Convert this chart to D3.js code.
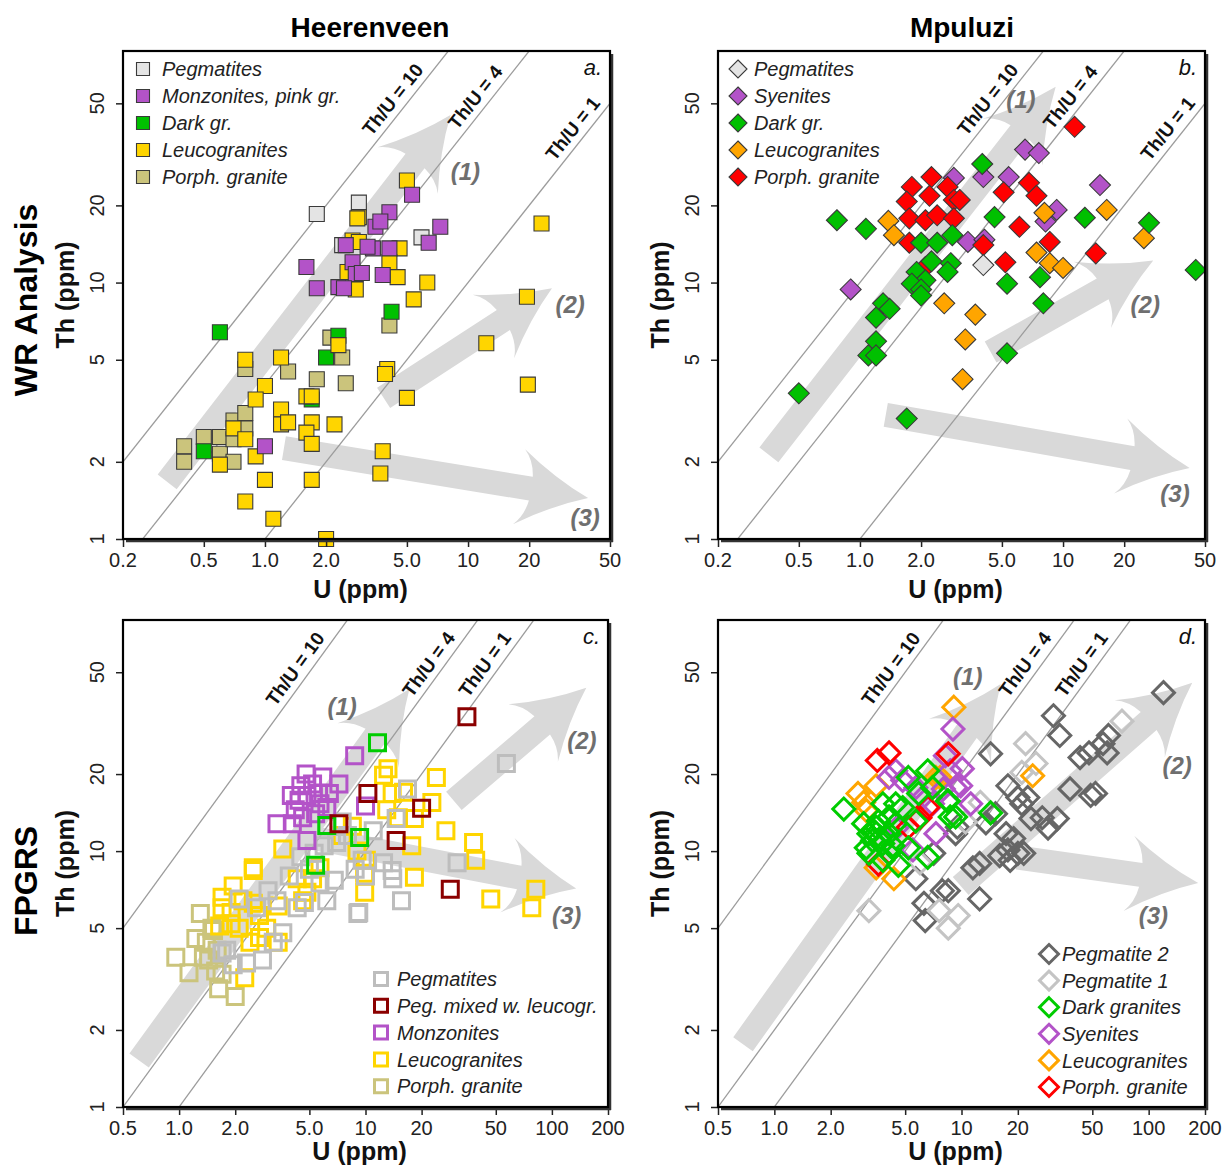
<!DOCTYPE html>
<html>
<head>
<meta charset="utf-8">
<title>Th vs U - Heerenveen and Mpuluzi</title>
<style>
body { margin: 0; background: #fff; }
text { font-family: "Liberation Sans", Arial, sans-serif; }
</style>
</head>
<body>
<script src="https://d3js.org/d3.v7.min.js"></script>
<div id="chart"></div>
<script>
// ---- tick labels ----
const yTicks = [1, 2, 5, 10, 20, 50];
const yTickLabels = ["1", "2", "5", "10", "20", "50"];
const abXTicks = [0.2, 0.5, 1, 2, 5, 10, 20, 50];
const abXTickLabels = ["0.2", "0.5", "1.0", "2.0", "5.0", "10", "20", "50"];
const cdXTicks = [0.5, 1, 2, 5, 10, 20, 50, 100, 200];
const cdXTickLabels = ["0.5", "1.0", "2.0", "5.0", "10", "20", "50", "100", "200"];

// ---- Th/U reference lines: ratio where the line is drawn, label text, Th where label sits ----
const abRatios = [10, 4, 1];
const cdRatios = [10, 2, 1];
const ratioLabels = ["Th/U = 10", "Th/U = 4", "Th/U = 1"];
const abRatioLabelTh = [48, 49, 37];
const cdRatioLabelTh = [48, 50, 50];

// ---- trend arrows [U start, Th start, U tip, Th tip] ----
const aArrows = [[0.33, 1.67, 8.2, 45], [3.84, 3.55, 25.9, 9.5], [1.24, 2.26, 39, 1.445]];
const bArrows = [[0.356, 2.13, 9.2, 58], [4.4, 5.36, 27.8, 12.2], [1.34, 3.05, 42, 1.89]];
const cArrows = [[0.61, 1.52, 17.2, 43], [29.8, 15.7, 153, 43.5], [4.45, 11.5, 135, 7.15]];
const dArrows = [[0.68, 1.76, 16.2, 45], [9.9, 7.3, 171, 45.5], [19.9, 9.44, 184, 7.5]];
const arrowNames = ["(1)", "(2)", "(3)"];
const aArrowLabels = [[9.7, 27], [31.8, 8.2], [37.7, 1.21]];
const bArrowLabels = [[6.2, 51.5], [25.4, 8.2], [35.6, 1.5]];
const cArrowLabels = [[7.5, 36.6], [145, 27], [120, 5.6]];
const dArrowLabels = [[10.8, 48], [142, 21.6], [106, 5.6]];

// ---- a. Heerenveen WR  [U, Th] ----
const aPegmatites = [[1.8,18.5],[2.9,20.5],[2.4,14],[5.9,15]];
const aMonzonites = [[1.6,11.5],[2.5,14],[2.7,12],[2.8,10.8],[1.8,9.5],[2.3,9.6],[2.45,9.5],[5.3,22],[4.1,18.8],[3.5,16.5],[3.7,17.3],[7.3,16.5],[6.4,14.3],[3.4,13.6],[4.1,13.6],[3.8,10.7],[3.0,10.9],[1.0,2.3],[3.2,13.8]];
const aDark = [[0.6,6.4],[2.3,6.2],[2.0,5.1],[1.7,3.5],[0.5,2.2],[4.2,7.7]];
const aLeuco = [[0.8,5.0],[1.2,5.1],[1.0,3.95],[0.9,3.5],[1.2,3.2],[1.2,2.8],[1.3,2.85],[1.6,3.6],[1.7,3.6],[1.7,2.85],[1.6,2.6],[1.7,2.35],[2.2,2.8],[0.7,2.7],[0.8,2.45],[0.6,1.95],[0.9,2.1],[1.0,1.7],[1.7,1.7],[0.8,1.4],[1.1,1.2],[2.0,1.0],[2.3,5.7],[5.0,25],[2.9,18],[4.6,13.6],[4.1,12],[4.5,10.5],[6.3,10],[5.4,8.6],[23,17],[19.5,8.8],[12.3,5.8],[19.7,4.0],[4.0,4.6],[3.9,4.4],[5.0,3.55],[3.8,2.2],[3.7,1.8],[2.85,17.8],[2.7,14.6],[2.9,14.4],[2.55,11],[2.8,9.4]];
const aPorph = [[0.4,2.3],[0.4,2.0],[0.5,2.5],[0.6,2.5],[0.6,2.15],[0.7,2.0],[0.7,2.9],[0.8,3.1],[0.8,2.7],[0.7,2.45],[0.8,4.6],[1.3,4.5],[1.8,4.2],[2.5,4.05],[2.4,5.1],[2.1,6.1],[4.1,6.8]];

// ---- b. Mpuluzi WR ----
const bPegmatites = [[4.05,11.7]];
const bSyenites = [[0.9,9.4],[6.5,33],[7.6,32],[4.05,25.8],[5.4,25.8],[15.2,24],[9.3,19.2],[8.2,17.3],[3.4,14.4],[4.1,14.7],[2.9,25.6]];
const bDark = [[0.77,17.5],[1.07,16.2],[2.0,14.3],[2.4,14.3],[2.85,15.3],[2.25,12.1],[2.8,11.9],[2.7,11],[1.9,11],[2.1,10.2],[1.8,9.9],[2.0,9.4],[1.3,8.3],[1.4,7.9],[1.2,7.3],[1.2,5.9],[1.1,5.2],[1.2,5.2],[0.5,3.7],[1.7,2.95],[2.0,8.9],[4.0,29],[4.6,18],[12.8,17.9],[26.5,17.1],[45,11.2],[5.3,9.9],[7.7,10.5],[8.0,8.3],[5.3,5.3]];
const bLeuco = [[1.38,17.4],[1.47,15.3],[2.6,8.3],[3.3,6.0],[3.2,4.2],[8.1,18.7],[16.4,19.2],[25,14.9],[7.4,13.1],[8.6,11.9],[10,11.4],[3.7,7.5]];
const bPorph = [[2.25,25.8],[1.8,23.6],[2.7,23.6],[2.9,21],[1.7,20.7],[2.2,21.8],[1.75,17.8],[2.1,17.5],[2.4,18.3],[2.9,17.8],[1.75,14.3],[2.1,11.5],[11.4,40.5],[3.1,21],[5.1,22.5],[6.8,24.5],[7.4,21.8],[6.1,16.5],[8.6,14.4],[4.05,14],[5.2,12],[14.5,13]];

// ---- c. Heerenveen FPGRS ----
const cPegmatites = [[57,22],[31,9],[15.6,6.4],[14.6,13.4],[16.8,17.5],[13.9,8.4],[14,7.8],[9.6,9.2],[9.2,5.75],[2.1,6.5],[1.8,4.1],[1.7,4.0],[1.95,3.6],[2.8,3.75],[2.3,3.65],[3.35,6.4],[3.6,4.8],[5.7,7.5],[6.2,6.4],[9.1,5.7],[4.7,6.3],[3.2,4.4],[6.8,7.7],[4.3,6.0],[4.5,9.5],[5.3,9.8],[6.0,10.5],[7.0,10.8],[8.0,11.5],[6.2,12.5],[7.5,13.0],[5.0,8.5],[3.9,8.0],[3.0,7.0],[2.6,6.0],[8.8,8.5],[10,8.0],[12.5,9],[11,12]];
const cPegMixed = [[35,33.5],[10.3,16.8],[20,14.7],[14.6,11],[28.5,7.1],[7.2,12.8]];
const cMonzonites = [[8.75,23.6],[5.9,19.5],[4.5,18],[5.2,18.3],[4.0,16.5],[4.85,16.5],[5.6,16.8],[6.4,16.8],[7.2,18.3],[3.35,12.8],[4.05,12.8],[4.6,13.5],[5.4,14],[4.85,11],[6.2,14.8],[10,15],[4.4,15.8],[4.8,20],[4.2,14.5],[5.7,15.3]];
const cLeuco = [[13.2,21],[12.5,19.8],[24,19.4],[13.9,16.8],[16,17],[22.7,15.5],[18.3,13.4],[27,12],[38,10.8],[39,9.2],[17.7,10.5],[18.3,7.9],[47,6.5],[82,7.1],[78,6.0],[9.9,8.2],[9.9,6.9],[10.1,9.2],[3.6,10.2],[2.5,8.6],[2.5,8.4],[1.95,7.3],[1.7,6.6],[1.7,6.0],[2.2,6.4],[2.5,6.25],[2.7,5.6],[2.95,5.0],[3.4,6.1],[3.4,4.4],[2.4,4.4],[2.7,4.6],[2.25,3.2],[1.9,5.75],[1.9,5.2],[2.1,5.0],[1.65,5.1],[4.85,6.9],[5.2,7.8],[4.6,6.4],[4.3,7.8],[5.7,8.6],[8.5,12.5],[7.5,11.5],[9,10],[15,13.5],[13,14.5]];
const cPorph = [[0.96,3.85],[1.13,3.35],[1.3,5.7],[1.23,4.55],[1.4,4.4],[1.53,4.9],[1.44,3.75],[1.57,3.4],[1.63,2.9],[2.0,2.7],[1.7,3.3],[1.5,5.0],[1.6,4.1],[1.35,3.85]];
const cDark = [[11.6,26.5],[9.3,11.3],[6.2,12.6],[5.4,8.8]];

// ---- d. Mpuluzi FPGRS ----
const dPeg2 = [[120,41.6],[31,33.8],[33.5,28.3],[14.3,24],[61,28.3],[57,26.3],[43,23.2],[48,24.2],[60,24.2],[17.7,18],[38,17.5],[49,16.5],[52,16.8],[20,16.2],[22.6,16.2],[21,15.3],[15.2,14],[23.5,13.4],[27,13.5],[32.5,13.4],[29,12.3],[17.3,11.7],[19,11.2],[17.7,10.1],[20,9.8],[21.5,9.8],[18.2,9.2],[16,9.6],[11.5,8.6],[12.5,8.95],[8.5,7.0],[12.5,6.5],[9.5,12.4],[13.5,12.9],[9.3,11.7],[7.1,9.8],[5.7,7.8],[7.9,7.0],[6.3,6.25],[6.4,5.35]];
const dPeg1 = [[72,32.2],[22,26.3],[25,22],[21,20.3],[12.6,15.5],[3.2,5.85],[8.5,5.0],[9.6,5.6],[7.6,5.85],[10.5,13],[6,9]];
const dDark = [[2.35,14.6],[3.6,13.1],[3.2,11.7],[3.35,11],[3.8,10.7],[4.1,11.7],[4.1,9.8],[3.1,10.3],[3.5,12.4],[4.45,12.8],[4.85,14.8],[5.9,16.8],[6.6,20.6],[5.2,19.4],[7.0,17.7],[6.6,9.45],[8.5,15.7],[9.3,13.6],[4.6,8.8],[5.2,10.3],[5.7,13.1],[4.45,15.3],[3.8,15.3],[4.1,13.6],[3.2,9.8],[3.8,9.2],[14.3,14.1],[8.7,13.6],[8.4,15.7],[3.4,12],[3.0,12.8],[3.7,11.3],[4.3,10.5]];
const dSyenites = [[9.0,30],[8.2,23.6],[4.45,20.6],[4.85,18.9],[5.7,17.7],[6.2,16.2],[7.0,15.3],[7.3,11.7],[5.5,10.1],[4.5,12.3],[10.1,21],[9.3,17.7],[8.7,20.6],[9.9,18],[11.2,15.3],[8.0,17.5],[4.1,19.4]];
const dLeuco = [[9.1,36.5],[7.3,19.4],[3.5,18],[3.0,15.5],[3.1,14.4],[3.5,8.6],[4.35,7.8],[24,19.7],[7.7,19.4],[2.8,16.8]];
const dPorph = [[3.55,22.6],[4.1,24.2],[5.2,12.4],[8.5,24],[6.6,14.8],[3.6,8.9],[6.0,13.5]];

// ---- legends ----
const aLegend = ["Pegmatites", "Monzonites, pink gr.", "Dark gr.", "Leucogranites", "Porph. granite"];
const bLegend = ["Pegmatites", "Syenites", "Dark gr.", "Leucogranites", "Porph. granite"];
const cLegend = ["Pegmatites", "Peg. mixed w. leucogr.", "Monzonites", "Leucogranites", "Porph. granite"];
const dLegend = ["Pegmatite 2", "Pegmatite 1", "Dark granites", "Syenites", "Leucogranites", "Porph. granite"];

// ---- styling ----
const C = {
  peg: "#e4e4e4", purple: "#b353c8", green: "#00c000", yellow: "#ffd500", khaki: "#cbc47c",
  orange: "#ffa500", red: "#ff0000", darkred: "#8b0000", pegLine: "#bdbdbd",
  peg2: "#666666", peg1: "#c4c4c4", green2: "#00cc00"
};

const panels = [
  { letter: "a.", box: [123, 51, 610, 539], xDomain: [0.2, 50], xTicks: abXTicks, xLabels: abXTickLabels,
    ratios: abRatios, ratioTh: abRatioLabelTh, arrows: aArrows, arrowLabels: aArrowLabels,
    shape: "square", filled: true, legendNames: aLegend, legendColors: [C.peg, C.purple, C.green, C.yellow, C.khaki],
    legendPos: [143, 69, 27], textX: 162,
    groups: [[aPegmatites, C.peg], [aPorph, C.khaki], [aDark, C.green], [aLeuco, C.yellow], [aMonzonites, C.purple]] },
  { letter: "b.", box: [718, 51, 1205, 539], xDomain: [0.2, 50], xTicks: abXTicks, xLabels: abXTickLabels,
    ratios: abRatios, ratioTh: abRatioLabelTh, arrows: bArrows, arrowLabels: bArrowLabels,
    shape: "diamond", filled: true, legendNames: bLegend, legendColors: [C.peg, C.purple, C.green, C.orange, C.red],
    legendPos: [738, 69, 27], textX: 754,
    groups: [[bSyenites, C.purple], [bPorph, C.red], [bLeuco, C.orange], [bDark, C.green], [bPegmatites, C.peg]] },
  { letter: "c.", box: [123, 620, 608, 1107], xDomain: [0.5, 200], xTicks: cdXTicks, xLabels: cdXTickLabels,
    ratios: cdRatios, ratioTh: cdRatioLabelTh, arrows: cArrows, arrowLabels: cArrowLabels,
    shape: "square", filled: false, legendNames: cLegend, legendColors: [C.pegLine, C.darkred, C.purple, C.yellow, C.khaki],
    legendPos: [381, 979, 26.8], textX: 397,
    groups: [[cPorph, C.khaki], [cLeuco, C.yellow], [cPegmatites, C.pegLine], [cMonzonites, C.purple], [cDark, C.green2], [cPegMixed, C.darkred]] },
  { letter: "d.", box: [718, 620, 1205, 1107], xDomain: [0.5, 200], xTicks: cdXTicks, xLabels: cdXTickLabels,
    ratios: cdRatios, ratioTh: cdRatioLabelTh, arrows: dArrows, arrowLabels: dArrowLabels,
    shape: "diamond", filled: false, legendNames: dLegend, legendColors: [C.peg2, C.peg1, C.green2, C.purple, C.orange, C.red],
    legendPos: [1049, 954, 26.6], textX: 1062,
    groups: [[dPeg2, C.peg2], [dPeg1, C.peg1], [dLeuco, C.orange], [dSyenites, C.purple], [dPorph, C.red], [dDark, C.green2]] }
];

const svg = d3.select("#chart").append("svg")
    .attr("width", 1227)
    .attr("height", 1167);

function arrowPath(x0, y0, x1, y1) {
  const dx = x1 - x0, dy = y1 - y0, L = Math.hypot(dx, dy);
  const ux = dx / L, uy = dy / L, nx = -uy, ny = ux;
  const sw = 12, hl = 70, hw = 38, jb = 58;
  const P = (a, b) => [x0 + ux * a + nx * b, y0 + uy * a + ny * b];
  const s1 = P(0, sw), j1 = P(L - jb, sw), c1 = P(L - hl, hw), c2 = P(L - hl, -hw), j2 = P(L - jb, -sw), s2 = P(0, -sw);
  const q1 = P(L - 36, 14), q2 = P(L - 36, -14);
  const b1 = P(L - 60, 28), b2 = P(L - 60, -28);
  return "M" + s1 + "L" + j1 + "Q" + b1 + " " + c1 + "Q" + q1 + " " + [x1, y1] +
         "Q" + q2 + " " + c2 + "Q" + b2 + " " + j2 + "L" + s2 + "Z";
}

function marker(sel, shape, s) {
  if (shape === "square") {
    sel.attr("d", `M${-s},${-s}H${s}V${s}H${-s}Z`);
  } else {
    sel.attr("d", `M0,${-s}L${s},0L0,${s}L${-s},0Z`);
  }
}

panels.forEach(function(p, pi) {
  const [left, top, right, bottom] = p.box;
  const x = d3.scaleLog().domain(p.xDomain).range([left, right]);
  const y = d3.scaleLog().domain([1, 80]).range([bottom, top]);
  const g = svg.append("g");

  const clipId = "clip" + pi;
  svg.append("clipPath").attr("id", clipId)
    .append("rect").attr("x", left).attr("y", top).attr("width", right - left).attr("height", bottom - top);
  const inner = g.append("g").attr("clip-path", `url(#${clipId})`);

  // trend arrows
  inner.selectAll(".arrow")
    .data(p.arrows)
    .enter().append("path")
    .attr("d", d => arrowPath(x(d[0]), y(d[1]), x(d[2]), y(d[3])))
    .style("fill", "#d9d9d9");

  // Th/U lines
  inner.selectAll(".ratio")
    .data(p.ratios)
    .enter().append("line")
    .attr("x1", x(p.xDomain[0])).attr("y1", r => y(r * p.xDomain[0]))
    .attr("x2", x(p.xDomain[1])).attr("y2", r => y(r * p.xDomain[1]))
    .style("stroke", "#9c9c9c").style("stroke-width", 1.3);

  // Th/U labels
  p.ratios.forEach(function(r, i) {
    const th = p.ratioTh[i];
    const px = x(th / r), py = y(th);
    const ang = Math.atan2(y(th * 2) - y(th), x(th * 2 / r) - x(th / r)) * 180 / Math.PI;
    g.append("text")
      .attr("transform", `translate(${px},${py}) rotate(${ang})`)
      .attr("dy", -7)
      .attr("text-anchor", "middle")
      .style("font-size", "19px").style("font-weight", "bold").style("fill", "#111")
      .text(ratioLabels[i]);
  });

  // arrow labels
  g.selectAll(".alab")
    .data(p.arrowLabels)
    .enter().append("text")
    .attr("x", d => x(d[0])).attr("y", d => y(d[1]))
    .attr("dy", "0.35em")
    .attr("text-anchor", "middle")
    .style("font-size", "24px").style("font-weight", "bold").style("font-style", "italic")
    .style("fill", "#6f6f6f")
    .text((d, i) => arrowNames[i]);

  // points
  const s = p.shape === "square" ? (p.filled ? 7.5 : 8) : (p.filled ? 10.5 : 11);
  p.groups.forEach(function(grp) {
    const pts = g.append("g").selectAll("path")
      .data(grp[0])
      .enter().append("path")
      .attr("transform", d => `translate(${x(d[0])},${y(d[1])})`)
      .call(marker, p.shape, s);
    if (p.filled) {
      pts.style("fill", grp[1]).style("stroke", "#3a3a3a").style("stroke-width", 1.1);
    } else {
      pts.style("fill", "none").style("stroke", grp[1]).style("stroke-width", 3);
    }
  });

  // axes
  g.append("g")
    .attr("transform", `translate(0,${bottom})`)
    .call(d3.axisBottom(x).tickValues(p.xTicks).tickSize(8).tickFormat(""))
    .call(a => a.select(".domain").remove())
    .call(a => a.selectAll("line").style("stroke", "#222").style("stroke-width", 1.5));
  g.append("g")
    .attr("transform", `translate(${left},0)`)
    .call(d3.axisLeft(y).tickValues(yTicks).tickSize(7).tickFormat(""))
    .call(a => a.select(".domain").remove())
    .call(a => a.selectAll("line").style("stroke", "#222").style("stroke-width", 1.5));

  g.selectAll(".xlab")
    .data(p.xTicks)
    .enter().append("text")
    .attr("x", d => x(d)).attr("y", bottom + 28)
    .attr("text-anchor", "middle")
    .style("font-size", "20px").style("fill", "#222")
    .text((d, i) => p.xLabels[i]);
  g.selectAll(".ylab")
    .data(yTicks)
    .enter().append("text")
    .attr("transform", d => `translate(${left - 19},${y(d)}) rotate(-90)`)
    .attr("text-anchor", "middle")
    .style("font-size", "20px").style("fill", "#222")
    .text((d, i) => yTickLabels[i]);

  // frame
  g.append("line").attr("x1", right + 2).attr("x2", right + 2).attr("y1", top + 3).attr("y2", bottom + 3)
    .style("stroke", "#333").style("stroke-width", 2.5);
  g.append("line").attr("x1", left + 3).attr("x2", right + 3).attr("y1", bottom + 2).attr("y2", bottom + 2)
    .style("stroke", "#333").style("stroke-width", 2.5);
  g.append("rect")
    .attr("x", left).attr("y", top).attr("width", right - left).attr("height", bottom - top)
    .style("fill", "none").style("stroke", "#000").style("stroke-width", 2.2);

  // panel letter
  g.append("text")
    .attr("x", right - 8).attr("y", top + 24)
    .attr("text-anchor", "end")
    .style("font-size", "22px").style("font-style", "italic").style("fill", "#111")
    .text(p.letter);

  // axis titles
  g.append("text")
    .attr("x", (left + right) / 2 - 6).attr("y", pi < 2 ? 598 : 1160)
    .attr("text-anchor", "middle")
    .style("font-size", "25px").style("font-weight", "bold").style("fill", "#111")
    .text("U (ppm)");
  g.append("text")
    .attr("transform", `translate(${left - 49},${(top + bottom) / 2}) rotate(-90)`)
    .attr("text-anchor", "middle")
    .style("font-size", "25px").style("font-weight", "bold").style("fill", "#111")
    .text("Th (ppm)");

  // legend
  const [lx, ly, ldy] = p.legendPos;
  const ls = p.shape === "square" ? (p.filled ? 6.5 : 6.5) : (p.filled ? 9 : 9.5);
  const leg = g.append("g");
  p.legendNames.forEach(function(name, i) {
    const m = leg.append("path")
      .attr("transform", `translate(${lx},${ly + i * ldy})`)
      .call(marker, p.shape, ls);
    if (p.filled) {
      m.style("fill", p.legendColors[i]).style("stroke", "#3a3a3a").style("stroke-width", 1.1);
    } else {
      m.style("fill", "none").style("stroke", p.legendColors[i]).style("stroke-width", 3);
    }
    leg.append("text")
      .attr("x", p.textX).attr("y", ly + i * ldy)
      .attr("dy", "0.36em")
      .style("font-size", "20px").style("font-style", "italic").style("fill", "#222")
      .text(name);
  });
});

// column and row titles
svg.append("text").attr("x", 370).attr("y", 37).attr("text-anchor", "middle")
  .style("font-size", "28px").style("font-weight", "bold").text("Heerenveen");
svg.append("text").attr("x", 962).attr("y", 37).attr("text-anchor", "middle")
  .style("font-size", "28px").style("font-weight", "bold").text("Mpuluzi");
svg.append("text").attr("transform", "translate(37,300) rotate(-90)").attr("text-anchor", "middle")
  .style("font-size", "32px").style("font-weight", "bold").text("WR Analysis");
svg.append("text").attr("transform", "translate(37,881) rotate(-90)").attr("text-anchor", "middle")
  .style("font-size", "32px").style("font-weight", "bold").text("FPGRS");
</script>
</body>
</html>
